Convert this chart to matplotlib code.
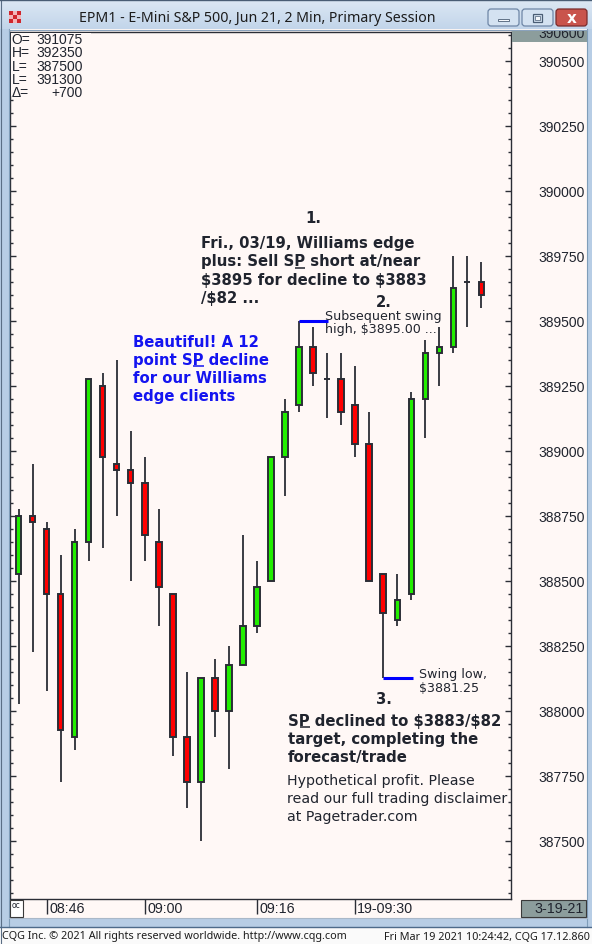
import numpy as np
import matplotlib
matplotlib.use("Agg")
import matplotlib.pyplot as plt
from matplotlib.patches import Rectangle, FancyBboxPatch
from matplotlib.ticker import MultipleLocator, FixedLocator
from matplotlib.colors import LinearSegmentedColormap
import matplotlib.transforms as mtransforms

# ---------------- data ----------------
opens  = [388525, 388750, 388700, 388450, 387900, 388650, 389250, 388950, 388925, 388875,
          388650, 388450, 387900, 387725, 388125, 388000, 388175, 388325, 388500, 388975,
          389175, 389400, 389275, 389275, 389175, 389025, 388525, 388350, 388450, 389200,
          389375, 389400, 389650, 389650]
highs  = [388775, 388950, 388725, 388600, 388700, 389275, 389300, 389350, 389075, 388975,
          388775, 388450, 388150, 388125, 388200, 388250, 388675, 388575, 388975, 389200,
          389500, 389475, 389375, 389375, 389325, 389150, 388525, 388525, 389225, 389425,
          389475, 389750, 389750, 389725]
lows   = [388025, 388225, 388075, 387725, 387850, 388575, 388625, 388750, 388500, 388575,
          388325, 387825, 387625, 387500, 387900, 387775, 388175, 388300, 388500, 388825,
          389150, 389250, 389125, 389100, 388975, 388500, 388125, 388325, 388425, 389050,
          389250, 389375, 389475, 389550]
closes = [388750, 388725, 388450, 387925, 388650, 389275, 388975, 388925, 388875, 388675,
          388475, 387900, 387725, 388125, 388000, 388175, 388325, 388475, 388975, 389150,
          389400, 389300, 389275, 389150, 389025, 388500, 388375, 388425, 389200, 389375,
          389400, 389625, 389650, 389600]

time_idx = [2, 9, 17, 24]
time_labels = ["08:46", "09:00", "09:16", "19-09:30"]
price_ticks = list(range(387500, 390501, 250))

swing_high = (20, 22.05, 389500)
swing_low = (26, 28.15, 388125)

ohlc_names = ["O=", "H=", "L=", "L=", "\u0394="]
ohlc_vals = ["391075", "392350", "387500", "391300", "+700"]

title = "EPM1 - E-Mini S&P 500, Jun 21, 2 Min, Primary Session"

# ---------------- style ----------------
W, H = 592, 945
BG = "#FFF8F6"
EDGE = "#2B2E36"
GREEN = "#22EE00"
RED = "#FF0000"
DARK = "#20242E"
BLUE = "#1414F0"
FRAME_BLUE = "#B7CDE5"
GRAY = "#8C9D9C"

fig = plt.figure(figsize=(W / 100, H / 100), dpi=100)
fig.patch.set_facecolor(BG)

def fx(x):
    return x / W

def fy(y):
    return 1 - y / H

# ---------------- main chart ----------------
L, R, T, B = 10, 511, 33, 900
ax = fig.add_axes([fx(L), fy(B), (R - L) / W, (B - T) / H])
ax.set_facecolor(BG)
ax.set_xlim(-0.64, 35.14)
ax.set_ylim(387276, 390610)

bw = 0.36
for i, (o, h, l, c) in enumerate(zip(opens, highs, lows, closes)):
    ax.vlines(i, l, h, color=EDGE, lw=1.3, zorder=2)
    if o == c:
        ax.hlines(o, i - bw / 2 - 0.05, i + bw / 2 + 0.05, color=EDGE, lw=1.4, zorder=3)
    else:
        col = GREEN if c > o else RED
        ax.add_patch(Rectangle((i - bw / 2, min(o, c)), bw, abs(c - o),
                               facecolor=col, edgecolor=EDGE, lw=1.4, zorder=3))

# swing markers
ax.hlines(swing_high[2], swing_high[0], swing_high[1], color="#0000FF", lw=2.2, zorder=4)
ax.hlines(swing_low[2], swing_low[0], swing_low[1], color="#0000FF", lw=2.2, zorder=4)

for s in ax.spines.values():
    s.set_color(EDGE)
    s.set_linewidth(1.0)

ax.yaxis.set_major_locator(FixedLocator(price_ticks))
ax.yaxis.set_minor_locator(MultipleLocator(50))
ax.set_yticklabels([str(v) for v in price_ticks])
ax.tick_params(axis="y", which="both", direction="in", left=True, right=True,
               labelleft=False, labelright=True, color=EDGE, width=1.0)
ax.tick_params(axis="y", which="major", length=4.5, pad=53.3, labelsize=10,
               labelcolor=DARK)
ax.tick_params(axis="y", which="minor", length=2.5)
for lab in ax.get_yticklabels():
    lab.set_horizontalalignment("right")
    lab.set_fontfamily("Liberation Sans")

ax.set_xticks(time_idx)
ax.set_xticklabels([""] * len(time_idx))
ax.tick_params(axis="x", which="major", direction="out", length=11, width=1.0,
               color=EDGE, bottom=True, top=False)
tr = mtransforms.blended_transform_factory(ax.transData, fig.transFigure)
for i, lab in zip(time_idx, time_labels):
    ax.text(i + 0.15, fy(909), lab, transform=tr, ha="left", va="center",
            fontsize=10.3, color=DARK, family="Liberation Sans", clip_on=False)

# ---------------- overlay (pixel coordinates) ----------------
ao = fig.add_axes([0, 0, 1, 1], zorder=5)
ao.set_xlim(0, W)
ao.set_ylim(H, 0)
ao.axis("off")
ao.patch.set_alpha(0)

def rect(x0, y0, x1, y1, fc, ec="none", lw=0, z=1, **kw):
    ao.add_patch(Rectangle((x0, y0), x1 - x0, y1 - y0, facecolor=fc, edgecolor=ec,
                           lw=lw, zorder=z, **kw))

# window frame
rect(0, 30, 9, 928, FRAME_BLUE)
ao.plot([9, 9], [30, 928], color="#7F9DB9", lw=0.8)
ao.plot([0.5, 0.5], [0, 945], color="#5A6E85", lw=0.8)
rect(587, 30, 592, 928, FRAME_BLUE)
ao.plot([587, 587], [30, 928], color="#7F9DB9", lw=0.8)
rect(0, 919, 592, 928, FRAME_BLUE)
ao.plot([9, 587], [919, 919], color="#AAB8C8", lw=0.8)
ao.plot([0, 592], [928, 928], color="#4D6A8A", lw=1.0)
rect(0, 928.5, 592, 945, "#FAFAFA")

# title bar gradient
grad = np.linspace(0, 1, 64).reshape(-1, 1)
cmap = LinearSegmentedColormap.from_list("tb", ["#DDE8F4", "#C2D5EA"])
ao.imshow(grad, cmap=cmap, aspect="auto", extent=[0, W, 30, 0], zorder=0.5)
ao.plot([0, W], [0.5, 0.5], color="#4A5D74", lw=1.0)
ao.plot([9, 587], [30.5, 30.5], color="#8AA2BC", lw=0.8)
ao.text(79, 19, title, ha="left", va="center", fontsize=10.2, color="#1C1C1C",
        family="Noto Sans")

# icon
for r_ in range(3):
    for c_ in range(3):
        col = "#D0262D" if (r_ + c_) % 2 == 0 else "#F3B5B8"
        rect(9 + c_ * 4, 12 + r_ * 4, 12.5 + c_ * 4, 15.5 + r_ * 4, col, z=3)

# buttons
def button(x0, x1, fc, ec):
    ao.add_patch(FancyBboxPatch((x0, 10), x1 - x0, 17, boxstyle="round,pad=0,rounding_size=3",
                                facecolor=fc, edgecolor=ec, lw=0.9, zorder=3))

button(488, 519, "#D4E2F1", "#6E86A6")
button(522, 553, "#D4E2F1", "#6E86A6")
button(556, 587, "#C9544C", "#7A2B2B")
rect(498, 19.5, 509, 22, "#F4F7FB", ec="#4A5D74", lw=0.6, z=4)
rect(533, 14.5, 542, 22.5, "none", ec="#4A5D74", lw=0.9, z=4)
rect(535, 16.5, 540, 20.5, "#F4F7FB", ec="#4A5D74", lw=0.5, z=4)
ao.text(571.5, 18.5, "x", ha="center", va="center", fontsize=11, color="white",
        fontweight="bold", family="DejaVu Sans", zorder=5)

# cover top spine behind OHLC readout
rect(11, 33.7, 91, 97, BG, z=2)
for k, (n, v) in enumerate(zip(ohlc_names, ohlc_vals)):
    yy = 40 + k * 13.3
    ao.text(11.5, yy, n, ha="left", va="center", fontsize=10, color=DARK,
            family="Liberation Sans", zorder=3)
    ao.text(83, yy, v, ha="right", va="center", fontsize=10, color=DARK,
            family="Liberation Sans", zorder=3)

# 390600 box (clipped)
bx = fig.add_axes([fx(512), fy(43), (587 - 512) / W, 11 / H], zorder=6)
bx.set_facecolor(GRAY)
bx.set_xlim(512, 587)
bx.set_ylim(43, 32)
for s in bx.spines.values():
    s.set_visible(False)
bx.set_xticks([])
bx.set_yticks([])
bx.text(585, 34.5, "390600", ha="right", va="center", fontsize=10, color=DARK,
        family="Liberation Sans", clip_on=True)

# 3-19-21 box
rect(521, 900.5, 586, 917.5, GRAY, ec="#3A3A3A", lw=0.8, z=3)
ao.text(584, 909, "3-19-21", ha="right", va="center", fontsize=10.3, color=DARK,
        family="Liberation Sans", zorder=4)

# oc box
rect(9.5, 901, 22.5, 917.5, "white", ec="#3A3A3A", lw=0.8, z=3)
ao.text(16, 905.5, "oc", ha="center", va="center", fontsize=5.5, color=DARK, zorder=4)

# footer
ao.text(2, 937, "CQG Inc. \u00a9 2021 All rights reserved worldwide. http://www.cqg.com",
        ha="left", va="center", fontsize=7.8, color="#1C1C1C", family="Noto Sans")
ao.text(590, 937, "Fri Mar 19 2021 10:24:42, CQG 17.12.860",
        ha="right", va="center", fontsize=7.8, color="#1C1C1C", family="Noto Sans")

# ---------------- annotations ----------------
renderer = fig.canvas.get_renderer()

def lines_at(x, baselines, lines, size, color, weight="normal", ha="left"):
    for yb, s in zip(baselines, lines):
        ao.text(x, yb, s, ha=ha, va="baseline", fontsize=size, color=color,
                fontweight=weight, family="DejaVu Sans", zorder=6, parse_math=False)

def underline(x, yb, prefix, target, size, color, weight):
    kw = dict(ha="left", va="baseline", fontsize=size, fontweight=weight,
              family="DejaVu Sans", parse_math=False)
    t1 = ao.text(x, yb, prefix, **kw)
    t2 = ao.text(x, yb, prefix + target, **kw)
    e1 = t1.get_window_extent(renderer).x1
    e2 = t2.get_window_extent(renderer).x1
    t1.remove()
    t2.remove()
    inv = ao.transData.inverted()
    xa = inv.transform((e1, 0))[0]
    xb = inv.transform((e2, 0))[0]
    ao.plot([xa + 0.8, xb], [yb + 2.2, yb + 2.2], color=color, lw=1.1, zorder=6,
            solid_capstyle="butt")

BS = 10.7
lines_at(313.5, [223], ["1."], BS, DARK, "bold", ha="center")
fri = ["Fri., 03/19, Williams edge", "plus: Sell SP short at/near",
       "$3895 for decline to $3883", "/$82 ..."]
lines_at(201, [248, 266.3, 284.6, 303], fri, BS, DARK, "bold")
underline(201, 266.3, "plus: Sell S", "P", BS, DARK, "bold")

lines_at(383.5, [307], ["2."], BS, DARK, "bold", ha="center")
lines_at(325, [320, 333.5], ["Subsequent swing", "high, $3895.00 ..."], 9.1, DARK)

blue = ["Beautiful! A 12", "point SP decline", "for our Williams", "edge clients"]
lines_at(133, [346.7, 364.6, 382.6, 400.6], blue, BS, BLUE, "bold")
underline(133, 364.6, "point S", "P", BS, BLUE, "bold")

lines_at(419.3, [678.3, 691.7], ["Swing low,", "$3881.25"], 9.1, DARK)
lines_at(383.5, [704], ["3."], BS, DARK, "bold", ha="center")

sp = ["SP declined to $3883/$82", "target, completing the", "forecast/trade"]
lines_at(288, [726, 744, 761.7], sp, BS, DARK, "bold")
underline(288, 726, "S", "P", BS, DARK, "bold")

hyp = ["Hypothetical profit. Please", "read our full trading disclaimer",
       "at Pagetrader.com"]
lines_at(286.7, [785, 802.8, 820.7], hyp, 10.2, DARK)

fig.savefig("out.png", dpi=100, facecolor=fig.get_facecolor())
